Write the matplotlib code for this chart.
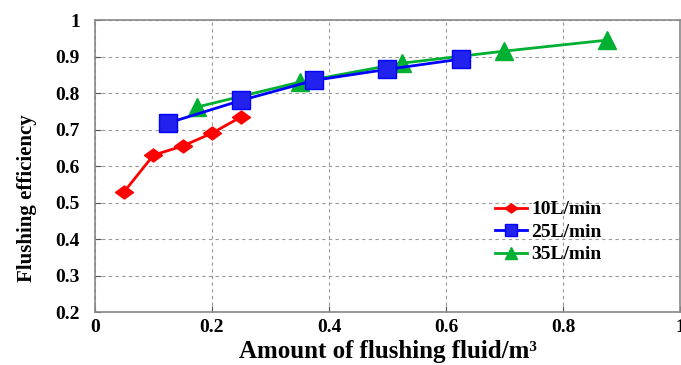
import matplotlib
matplotlib.use("Agg")
import matplotlib.pyplot as plt

x_10 = [0.05, 0.10, 0.15, 0.20, 0.25]
y_10 = [0.530, 0.630, 0.655, 0.690, 0.735]
x_25 = [0.125, 0.25, 0.375, 0.50, 0.625]
y_25 = [0.718, 0.780, 0.835, 0.865, 0.893]
x_35 = [0.175, 0.35, 0.525, 0.70, 0.875]
y_35 = [0.762, 0.830, 0.882, 0.915, 0.945]
labels = ["10L/min", "25L/min", "35L/min"]
xticks = [0, 0.2, 0.4, 0.6, 0.8, 1]
xticklabels = ['0', '0.2', '0.4', '0.6', '0.8', '1']
yticks = [0.2, 0.3, 0.4, 0.5, 0.6, 0.7, 0.8, 0.9, 1.0]
yticklabels = ['0.2', '0.3', '0.4', '0.5', '0.6', '0.7', '0.8', '0.9', '1']

plt.rcParams['font.family'] = ['Liberation Serif', 'DejaVu Serif']
fig = plt.figure(figsize=(6.81, 3.65), dpi=100)
ax = fig.add_axes([0.1395, 0.145, 0.859, 0.80])

diamond = [(-1, 0), (0, 0.72), (1, 0), (0, -0.72), (-1, 0)]
ax.plot(x_10, y_10, color='#FF0000', lw=2, marker=diamond, ms=13, label=labels[0], zorder=3)
ax.plot(x_25, y_25, color='#0000FF', lw=2, marker='s', ms=12.5, mfc='#2222EE', mec='#0000FF',
        label=labels[1], zorder=4)
ax.plot(x_35, y_35, color='#00B032', lw=2, marker='^', ms=13, label=labels[2], zorder=3)

ax.set_xlim(0, 1)
ax.set_ylim(0.2, 1)
ax.set_xticks(xticks)
ax.set_xticklabels(xticklabels)
ax.set_yticks(yticks)
ax.set_yticklabels(yticklabels)
ax.grid(True, color='#999999', ls=(0, (3, 3)), lw=0.8)
for s in ax.spines.values():
    s.set_color('#888888')
    s.set_linewidth(1.2)
ax.tick_params(direction='in', length=4, color='#555555', labelsize=14)
ax.tick_params(axis='x', pad=5)
ax.tick_params(axis='y', pad=11)
for t in ax.get_xticklabels() + ax.get_yticklabels():
    t.set_fontweight('bold')

ax.set_xlabel('Amount of flushing fluid/m\u00b3', fontsize=18, fontweight='bold', labelpad=3)
ax.set_ylabel('Flushing efficiency', fontsize=15, fontweight='bold', labelpad=13)
ax.yaxis.label.set_y(0.39)

leg = ax.legend(loc='center left', bbox_to_anchor=(0.684, 0.274), frameon=False,
                prop={'weight': 'bold', 'size': 14}, handlelength=1.65, labelspacing=0.25,
                handletextpad=0.2, borderpad=0, borderaxespad=0, markerscale=0.7)
fig.savefig('out.png', dpi=100)
